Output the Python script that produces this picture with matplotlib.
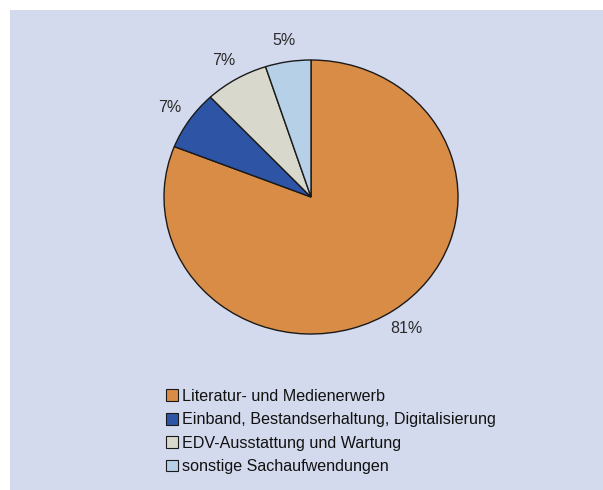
import matplotlib
matplotlib.use("Agg")
import matplotlib.pyplot as plt
from matplotlib.patches import Rectangle

plt.rcParams['font.family'] = ['Liberation Sans', 'DejaVu Sans']

categories = [
    "Literatur- und Medienerwerb",
    "Einband, Bestandserhaltung, Digitalisierung",
    "EDV-Ausstattung und Wartung",
    "sonstige Sachaufwendungen",
]
shares = [81, 7, 7, 5]
colors = ["#d98c45", "#2e55a5", "#d8d9cc", "#b5d0e7"]

W, H = 603, 490
fig = plt.figure(figsize=(W / 100, H / 100), dpi=100)
fig.patch.set_facecolor("white")

# light panel behind the chart
bg = fig.add_axes([0, 0, 1, 1], zorder=-1)
bg.set_axis_off()
bg.add_patch(Rectangle((10 / W, 0), (W - 10) / W, (H - 10) / H,
                       transform=bg.transAxes, facecolor="#d4daee",
                       edgecolor="none"))

# pie axes (slightly wider than tall)
cx, cy, rx, ry = 311, 197, 147, 137
ax = fig.add_axes([(cx - rx) / W, (H - cy - ry) / H, 2 * rx / W, 2 * ry / H],
                  zorder=1)
wedges, texts, autotexts = ax.pie(
    shares, colors=colors, startangle=90, counterclock=False,
    autopct="%.0f%%", pctdistance=1.16,
    wedgeprops=dict(edgecolor="#1a1a1a", linewidth=1.0),
    textprops=dict(fontsize=11.5, color="#2a2a2a"),
)
ax.set_aspect("auto")
ax.set_xlim(-1, 1)
ax.set_ylim(-1, 1)
ax.set_axis_off()

leg = fig.legend(
    wedges, categories, loc="upper left",
    bbox_to_anchor=(166 / W, 1 - 389 / H),
    frameon=False, fontsize=11.6, handlelength=0.75, handleheight=0.75,
    handletextpad=0.22, labelspacing=0.52, borderaxespad=0, borderpad=0,
)
leg.set_zorder(2)
for t in leg.get_texts():
    t.set_color("#111111")
for h in leg.legend_handles:
    h.set_edgecolor("#1a1a1a")
    h.set_linewidth(0.8)

fig.savefig("out.png", dpi=100, facecolor=fig.get_facecolor())
